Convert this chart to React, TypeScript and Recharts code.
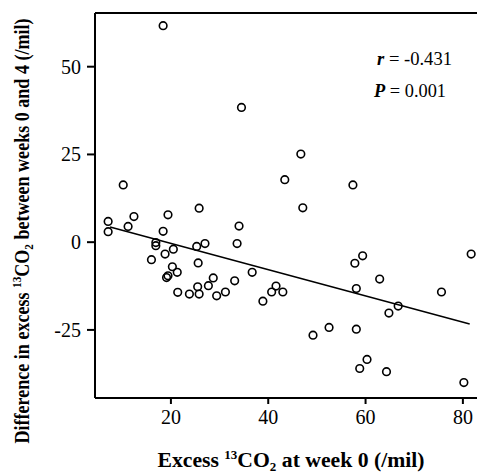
import React from 'react';
import {
  ScatterChart,
  Scatter,
  XAxis,
  YAxis,
  ReferenceLine,
  Label,
} from 'recharts';

// Excess 13CO2 at week 0 (x) vs change between weeks 0 and 4 (y)
const baselineCO2 = [
  7.1, 7.1, 10.2, 11.2, 12.4, 16.0, 16.9, 16.9, 18.4, 18.4,
  18.8, 19.1, 19.4, 19.4, 20.5, 20.3, 21.3, 21.4, 23.8, 25.5,
  25.8, 25.3, 27.0, 25.6, 25.8, 27.7, 28.7, 29.4, 31.2, 33.1,
  33.6, 34.0, 34.5, 36.7, 38.9, 40.7, 41.6, 43.0, 43.4, 46.7,
  47.1, 49.2, 52.5, 57.4, 57.8, 59.4, 58.1, 58.1, 60.3, 58.8,
  62.9, 64.3, 64.8, 66.7, 75.6, 80.2, 81.7,
];
const changeCO2 = [
  5.9, 3.0, 16.3, 4.5, 7.3, -5.0, -0.1, -1.0, 3.1, 61.7,
  -3.4, -10.1, -9.6, 7.8, -2.0, -7.0, -8.6, -14.3, -14.8, -12.7,
  -14.8, -1.2, -0.4, -5.9, 9.7, -12.4, -10.2, -15.3, -14.2, -11.0,
  -0.4, 4.6, 38.4, -8.6, -16.8, -14.2, -12.5, -14.2, 17.8, 25.1,
  9.8, -26.5, -24.3, 16.3, -6.0, -3.9, -13.2, -24.8, -33.4, -36.0,
  -10.5, -36.9, -20.2, -18.2, -14.2, -40.0, -3.4,
];

// regression line end points
const fitX = [7.5, 81.4];
const fitY = [4.3, -23.3];

const xTicks = [20, 40, 60, 80];
const yTicks = [-25, 0, 25, 50];
const xDomain = [4.4, 82.9];
const yDomain = [-44.4, 65.3];

const points = baselineCO2.map((x, i) => ({ x, y: changeCO2[i] }));
const fitLine = fitX.map((x, i) => ({ x, y: fitY[i] }));

const FONT = '"Liberation Serif", "Times New Roman", serif';

const OpenCircle = (props: any) => (
  <circle cx={props.cx} cy={props.cy} r={3.8} fill="none" stroke="#000" strokeWidth={1.6} />
);

const XTick = (props: any) => (
  <text x={props.x} y={props.y + 16} textAnchor="middle" fontFamily={FONT} fontSize={20} fill="#000">
    {props.payload.value}
  </text>
);

const YTick = (props: any) => (
  <text x={props.x} y={props.y + 7} textAnchor="end" fontFamily={FONT} fontSize={20} fill="#000">
    {props.payload.value}
  </text>
);

// condensed, rotated y title
const YTitle = () => (
  <text
    x={0}
    y={0}
    transform="translate(29, 231) rotate(-90) scale(0.86, 1)"
    textAnchor="middle"
    fontFamily={FONT}
    fontWeight="bold"
    fontSize={21}
    fill="#000"
  >
    Difference in excess <tspan fontSize={13} dy={-8}>13</tspan>
    <tspan dy={8}>CO</tspan>
    <tspan fontSize={13} dy={4}>2</tspan>
    <tspan dy={-4}> between weeks 0 and 4 (/mil)</tspan>
  </text>
);

const XTitle = () => (
  <text
    x={291}
    y={467}
    textAnchor="middle"
    fontFamily={FONT}
    fontWeight="bold"
    fontSize={20}
    fill="#000"
    textLength={267}
    lengthAdjust="spacingAndGlyphs"
  >
    Excess <tspan fontSize={12} dy={-8}>13</tspan>
    <tspan dy={8}>CO</tspan>
    <tspan fontSize={12} dy={4}>2</tspan>
    <tspan dy={-4}> at week 0  (/mil)</tspan>
  </text>
);

const Stats = () => (
  <g fontFamily={FONT} fontSize={18} fill="#000">
    <text x={377} y={65} textLength={75} lengthAdjust="spacingAndGlyphs">
      <tspan fontStyle="italic" fontWeight="bold">r</tspan> = -0.431
    </text>
    <text x={374} y={97} textLength={72} lengthAdjust="spacingAndGlyphs">
      <tspan fontStyle="italic" fontWeight="bold">P</tspan> = 0.001
    </text>
  </g>
);

export default function App() {
  return (
    <div style={{ position: 'absolute', left: 0, top: 0, fontFamily: FONT }}>
      <ScatterChart width={477} height={473} margin={{ top: 13, right: 0, bottom: 0, left: 0 }}>
        <XAxis
          dataKey="x"
          type="number"
          domain={xDomain}
          ticks={xTicks}
          allowDataOverflow
          height={75}
          axisLine={{ stroke: '#000', strokeWidth: 2 }}
          tickLine={{ stroke: '#000', strokeWidth: 2 }}
          tickSize={6}
          tickMargin={4}
          tick={<XTick />}
        >
          <Label content={<XTitle />} />
        </XAxis>
        <YAxis
          dataKey="y"
          type="number"
          domain={yDomain}
          ticks={yTicks}
          allowDataOverflow
          width={95}
          axisLine={{ stroke: '#000', strokeWidth: 2 }}
          tickLine={{ stroke: '#000', strokeWidth: 2 }}
          tickSize={8}
          tickMargin={6}
          tick={<YTick />}
        >
          <Label content={<YTitle />} />
        </YAxis>
        <ReferenceLine y={yDomain[1]} stroke="#000" strokeWidth={2} ifOverflow="extendDomain">
          <Label content={<Stats />} />
        </ReferenceLine>
        <Scatter
          data={fitLine}
          line={{ stroke: '#000', strokeWidth: 1.5 }}
          shape={() => <g />}
          isAnimationActive={false}
        />
        <Scatter data={points} shape={OpenCircle} isAnimationActive={false} />
      </ScatterChart>
    </div>
  );
}
